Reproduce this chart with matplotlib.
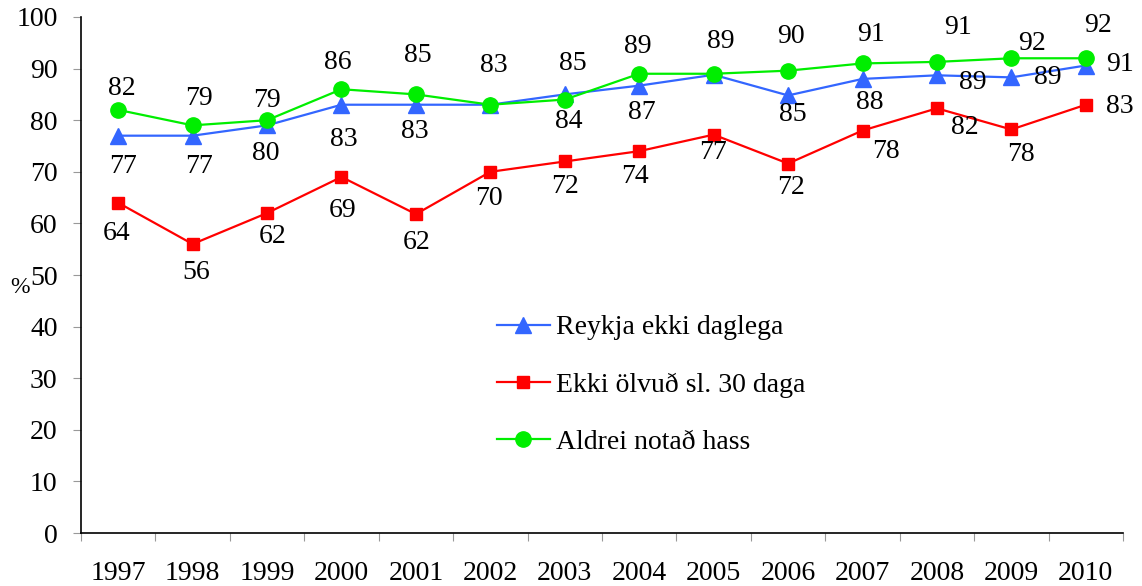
import matplotlib.pyplot as plt
import numpy as np

plt.rcParams['font.family'] = ['Liberation Serif', 'DejaVu Serif']

# --- Data ---
years = ["1997", "1998", "1999", "2000", "2001", "2002", "2003",
         "2004", "2005", "2006", "2007", "2008", "2009", "2010"]
reykja = [77, 77, 79, 83, 83, 83, 85, 86.7, 88.8, 84.8, 88, 88.7, 88.3, 90.6]
olvud = [64, 56, 62, 69, 61.8, 70, 72, 74, 77.2, 71.6, 78, 82.3, 78.2, 83]
hass = [82, 79, 80, 86, 85, 83, 84, 89, 89, 89.6, 91, 91.3, 92, 92]

# value labels as printed in the chart (upper row, lower row, red row)
top_labels = [82, 79, 79, 86, 85, 83, 85, 89, 89, 90, 91, 91, 92, 92]
low_labels = [77, 77, 80, 83, 83, None, 84, 87, None, 85, 88, 89, 89, 91]
red_labels = [64, 56, 62, 69, 62, 70, 72, 74, 77, 72, 78, 82, 78, 83]

# anchor series for each label row and pixel offsets (style only)
top_anchor = [hass, hass, hass, hass, hass, hass, reykja, hass, hass, hass, hass, hass, hass, hass]
low_anchor = [reykja, reykja, reykja, reykja, reykja, reykja, hass, reykja, reykja,
              reykja, reykja, reykja, reykja, reykja]
top_off = [(4, 21), (6, 27), (0, 20), (-4, 27), (2, 39), (3, 39), (8, 31),
           (-1, 27), (7, 32), (3, 34), (8, 29), (21, 34), (21, 15), (12, 33)]
low_off = [(5, -31), (6, -31), (-1, -28), (2, -35), (-1, -27), None, (4, -22),
           (3, -27), None, (5, -19), (7, -24), (36, -7), (36, 0), (34, 1)]
red_off = [(-2, -31), (4, -28), (6, -23), (1, -34), (1, -28), (-1, -27), (0, -25),
           (-4, -25), (-1, -18), (3, -24), (23, -21), (28, -19), (10, -25), (34, -2)]

x = np.arange(len(years))

fig = plt.figure(figsize=(11.42, 5.86), dpi=100)
ax = fig.add_axes([0.0709, 0.0904, 0.9125, 0.8806])

ax.plot(x, reykja, color="#3366FF", lw=1.6, marker="^", ms=11, label="Reykja ekki daglega", zorder=3)
ax.plot(x, olvud, color="#FF0000", lw=1.6, marker="s", ms=9, label="Ekki ölvuð sl. 30 daga", zorder=3)
ax.plot(x, hass, color="#00EE00", lw=1.6, marker="o", ms=11, label="Aldrei notað hass", zorder=4)

fs = 20
for i in range(len(years)):
    ax.annotate(str(top_labels[i]), (x[i], top_anchor[i][i]), xytext=top_off[i],
                textcoords="offset pixels", ha="center", va="center", fontsize=fs)
    if low_labels[i] is not None:
        ax.annotate(str(low_labels[i]), (x[i], low_anchor[i][i]), xytext=low_off[i],
                    textcoords="offset pixels", ha="center", va="center", fontsize=fs)
    ax.annotate(str(red_labels[i]), (x[i], olvud[i]), xytext=red_off[i],
                textcoords="offset pixels", ha="center", va="center", fontsize=fs)

ax.set_xlim(-0.5, len(years) - 0.5)
ax.set_ylim(0, 100)
ax.set_yticks(range(0, 101, 10))
ax.tick_params(axis="y", labelsize=fs, length=5.8, width=0.8, color="#999999", pad=11)

ax.set_xticks(x)
ax.set_xticklabels(years)
ax.set_xticks(np.arange(-0.5, len(years)), minor=True)
ax.tick_params(axis="x", which="major", length=0, labelsize=fs, pad=20)
ax.tick_params(axis="x", which="minor", length=5.8, width=0.8, color="#999999")

ax.spines["top"].set_visible(False)
ax.spines["right"].set_visible(False)
ax.spines["left"].set_linewidth(1.2)
ax.spines["bottom"].set_linewidth(1.2)

fig.text(20 / 1142, 1 - 287 / 586, "%", fontsize=17, ha="center", va="center")

ax.legend(loc="center left", bbox_to_anchor=(0.399, 0.287), frameon=False, fontsize=fs,
          handlelength=1.9, handletextpad=0.25, labelspacing=1.15, borderpad=0, borderaxespad=0)

plt.savefig("out.png", dpi=100)
